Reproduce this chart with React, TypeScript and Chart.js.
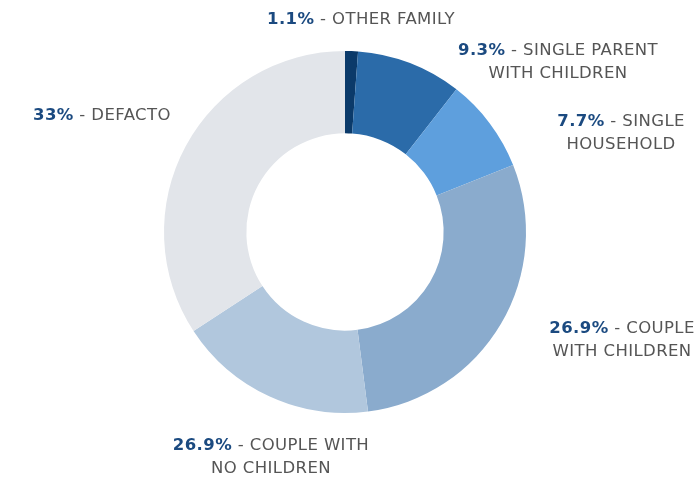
import React, { useEffect, useRef } from "react";
import { Chart, registerables } from "chart.js";

Chart.register(...registerables);

const categories = [
  "OTHER FAMILY",
  "SINGLE PARENT WITH CHILDREN",
  "SINGLE HOUSEHOLD",
  "COUPLE WITH CHILDREN",
  "COUPLE WITH NO CHILDREN",
  "DEFACTO",
];
// slice sizes as drawn in the picture
const values = [1.15, 9.4, 8.4, 29.0, 17.8, 34.2];
// percentages as printed in the labels
const labelPct = ["1.1%", "9.3%", "7.7%", "26.9%", "26.9%", "33%"];
const labelLines = [
  ["OTHER FAMILY"],
  ["SINGLE PARENT", "WITH CHILDREN"],
  ["SINGLE", "HOUSEHOLD"],
  ["COUPLE", "WITH CHILDREN"],
  ["COUPLE WITH", "NO CHILDREN"],
  ["DEFACTO"],
];
const colors = ["#0b3a6a", "#2b6ba9", "#5e9fdd", "#8aabcd", "#b1c7dd", "#e2e5ea"];
// label block placement, polar relative to the doughnut centre
const labelAngle = [4.3, 51.4, 70.3, 111.3, 198.2, 295.5];
const labelRadiusFactor = [1.175, 1.506, 1.62, 1.643, 1.309, 1.488];

const FONT = "'DejaVu Sans', sans-serif";
const FS = 16.5;
const LH = 23;

const labelPlugin = {
  id: "outerLabels",
  afterDatasetsDraw(chart: any) {
    const ctx = chart.ctx;
    const meta = chart.getDatasetMeta(0);
    ctx.save();
    ctx.textBaseline = "middle";
    ctx.textAlign = "left";
    try {
      ctx.letterSpacing = "0.4px";
    } catch (e) {}
    meta.data.forEach((arc: any, i: number) => {
      const { x, y, outerRadius } = arc.getProps(["x", "y", "outerRadius"], true);
      const a = (labelAngle[i] * Math.PI) / 180;
      const cx = x + Math.sin(a) * labelRadiusFactor[i] * outerRadius;
      const cy = y - Math.cos(a) * labelRadiusFactor[i] * outerRadius;
      const lines = labelLines[i];
      const n = lines.length;
      lines.forEach((line, li) => {
        const ly = cy - ((n - 1) * LH) / 2 + li * LH;
        if (li === 0) {
          ctx.font = `bold ${FS}px ${FONT}`;
          const p = labelPct[i];
          const pw = ctx.measureText(p).width;
          ctx.font = `normal ${FS}px ${FONT}`;
          const rest = " - " + line;
          const rw = ctx.measureText(rest).width;
          const sx = cx - (pw + rw) / 2;
          ctx.font = `bold ${FS}px ${FONT}`;
          ctx.fillStyle = "#1b4a80";
          ctx.fillText(p, sx, ly);
          ctx.font = `normal ${FS}px ${FONT}`;
          ctx.fillStyle = "#555555";
          ctx.fillText(rest, sx + pw, ly);
        } else {
          ctx.font = `normal ${FS}px ${FONT}`;
          ctx.fillStyle = "#555555";
          const w = ctx.measureText(line).width;
          ctx.fillText(line, cx - w / 2, ly);
        }
      });
    });
    ctx.restore();
  },
};

export default function App() {
  const ref = useRef<HTMLCanvasElement | null>(null);
  useEffect(() => {
    document.body.style.margin = "0";
    if (!ref.current) return;
    const chart = new Chart(ref.current, {
      type: "doughnut",
      data: {
        labels: categories,
        datasets: [
          {
            data: values,
            backgroundColor: colors,
            borderWidth: 0,
          },
        ],
      },
      options: {
        animation: false,
        responsive: false,
        cutout: "54.5%",
        layout: { padding: { top: 51, bottom: 67, left: 164, right: 172 } },
        plugins: {
          legend: { display: false },
          tooltip: { enabled: false },
        },
      },
      plugins: [labelPlugin],
    });
    return () => chart.destroy();
  }, []);
  return (
    <div style={{ position: "fixed", left: 0, top: 0, width: 698, height: 480, background: "#fff" }}>
      <canvas ref={ref} width={698} height={480} />
    </div>
  );
}
